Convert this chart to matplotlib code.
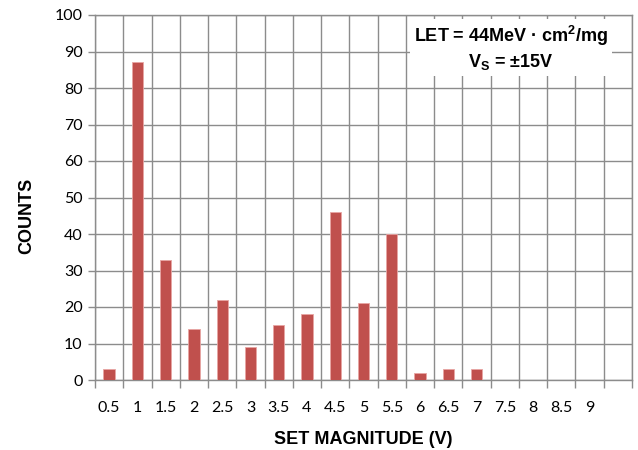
import matplotlib
matplotlib.use('Agg')
import matplotlib.pyplot as plt
from matplotlib.ticker import FixedLocator

# SET magnitude categories and counts
labels = ['0.5', '1', '1.5', '2', '2.5', '3', '3.5', '4', '4.5', '5',
          '5.5', '6', '6.5', '7', '7.5', '8', '8.5', '9', '']
counts = [3, 87, 33, 14, 22, 9, 15, 18, 46, 21, 40, 2, 3, 3, 0, 0, 0, 0, 0]

grid_col = '#8c8c8c'
tick_font = 'Lato'
plt.rcParams['mathtext.default'] = 'regular'

fig = plt.figure(figsize=(6.38, 4.5), dpi=100)
ax = fig.add_axes([95/638, 1 - 380/450, (632 - 95)/638, (380 - 15)/450])

x = list(range(len(labels)))
ax.bar(x, counts, width=0.4, color='#C0504D', edgecolor='#e8a5a3', linewidth=0.6, zorder=3)

ax.set_xlim(-0.5, len(labels) - 0.5)
ax.set_ylim(0, 100)
ax.set_yticks(range(0, 101, 10))
ax.set_xticks(x)
ax.set_xticklabels(labels)
ax.xaxis.set_minor_locator(FixedLocator([i - 0.5 for i in range(len(labels) + 1)]))

ax.grid(True, which='major', axis='y', color=grid_col, linewidth=1, zorder=0)
ax.grid(True, which='minor', axis='x', color=grid_col, linewidth=1, zorder=0)
ax.tick_params(axis='x', which='major', length=0, pad=15, labelsize=11.5)
ax.tick_params(axis='x', which='minor', length=6, color=grid_col, width=1)
ax.tick_params(axis='y', length=5, color=grid_col, width=1, labelsize=11.5, pad=4)
for lab in ax.get_xticklabels() + ax.get_yticklabels():
    lab.set_fontfamily(tick_font)
for s in ax.spines.values():
    s.set_color(grid_col)
    s.set_linewidth(1)

ax.set_xlabel('SET MAGNITUDE (V)', fontsize=13, fontweight='bold',
              family='Liberation Sans', labelpad=12)
ax.set_ylabel('COUNTS', fontsize=13, fontweight='bold',
              family='Liberation Sans')
ax.yaxis.set_label_coords(-0.112, 0.45)

ax.text(0.775, 0.91, 'LET = 44MeV · cm$^{2}$/mg\nV$_{S}$ = ±15V',
        transform=ax.transAxes, ha='center', va='center', fontsize=13,
        fontweight='bold', family='Liberation Sans', linespacing=1.25,
        bbox=dict(facecolor='white', edgecolor='none', pad=3), zorder=5)

fig.savefig('out.png', dpi=100)
